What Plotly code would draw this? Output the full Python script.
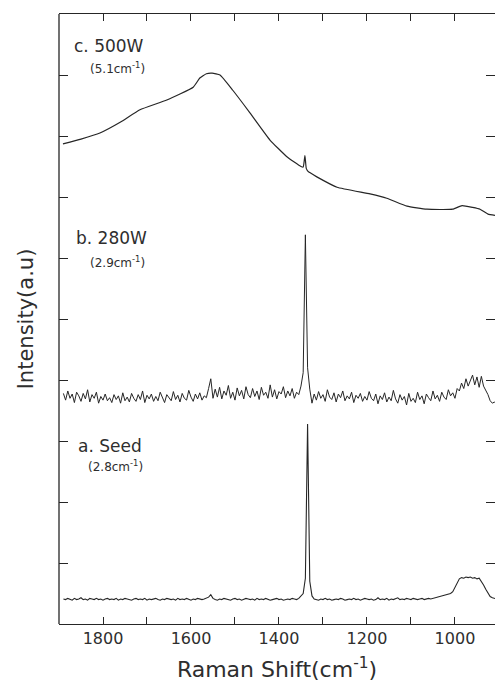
import plotly.graph_objects as go

# Wavenumber sampling grid for traces a and b (1890 -> 905 cm-1, step 5)
grid_x = list(range(1890, 904, -5))

# a. Seed
seed_y = [
    0.41,0.40,0.42,0.41,0.39,0.42,0.40,0.41,0.43,0.40,0.41,0.39,0.42,0.41,0.40,0.42,0.40,0.41,0.39,0.41,
    0.42,0.40,0.41,0.40,0.42,0.39,0.41,0.40,0.42,0.41,0.40,0.39,0.41,0.42,0.40,0.41,0.40,0.42,0.39,0.41,
    0.40,0.41,0.42,0.40,0.39,0.41,0.40,0.42,0.41,0.40,0.41,0.39,0.42,0.40,0.41,0.40,0.42,0.41,0.39,0.41,
    0.40,0.42,0.41,0.40,0.41,0.42,
    0.44,0.48,0.42,
    0.40,0.39,0.41,0.40,0.42,0.41,0.40,0.39,0.41,0.42,0.40,0.41,0.39,0.40,0.42,0.41,0.40,0.41,0.39,0.42,
    0.40,0.41,0.40,0.42,0.41,0.39,0.40,0.41,0.42,0.40,0.41,0.39,0.40,0.41,0.40,0.42,0.41,0.40,0.42,0.46,
    0.50,0.75,3.28,0.70,0.46,
    0.41,0.40,0.39,0.41,0.40,0.42,0.40,0.41,0.39,0.40,0.41,0.40,0.42,0.41,0.39,0.40,0.41,0.40,0.42,0.40,
    0.41,0.39,0.40,0.42,0.41,0.40,0.41,0.39,0.40,0.43,0.40,0.41,0.40,0.42,0.39,0.41,0.40,0.41,0.43,0.40,
    0.41,0.40,0.42,0.41,0.40,0.42,0.41,0.40,0.41,0.42,0.40,0.41,0.42,0.41,0.42,0.42,0.43,0.44,0.45,0.46,
    0.47,0.48,0.50,0.53,0.60,0.68,0.74,0.76,0.75,0.77,0.76,0.77,0.75,0.76,0.74,0.75,0.70,0.64,0.57,0.50,
    0.45,0.43,0.42,0.41,
]

# b. 280W
w280_y = [
    3.78,3.67,3.82,3.70,3.77,3.63,3.80,3.74,3.65,3.78,3.69,3.84,3.64,3.76,3.70,3.80,3.62,3.73,3.67,3.77,
    3.66,3.71,3.63,3.76,3.68,3.74,3.62,3.79,3.66,3.72,3.64,3.78,3.70,3.65,3.76,3.68,3.82,3.63,3.75,3.69,
    3.77,3.65,3.73,3.66,3.80,3.70,3.63,3.76,3.71,3.66,3.81,3.68,3.75,3.64,3.78,3.70,3.67,3.83,3.72,3.65,
    3.77,3.69,3.79,3.67,3.74,3.71,3.86,
    4.02,
    3.70,3.85,3.72,3.88,3.69,3.82,3.75,3.91,3.70,3.80,3.67,3.87,3.74,3.83,3.69,3.89,3.76,3.71,3.86,3.73,
    3.82,3.68,3.88,3.75,3.80,3.70,3.92,3.72,3.84,3.69,3.81,3.77,3.89,3.71,3.82,3.74,3.86,3.70,3.80,3.76,
    3.90,
    4.12,6.38,4.20,3.85,3.62,
    3.77,3.67,3.81,3.70,3.76,3.65,3.84,3.72,3.68,3.79,3.64,3.77,3.71,3.82,3.66,3.74,3.69,3.80,3.63,3.75,
    3.70,3.78,3.65,3.73,3.67,3.81,3.70,3.66,3.77,3.61,3.74,3.68,3.79,3.64,3.72,3.66,3.83,3.69,3.62,3.76,
    3.67,3.73,3.59,3.78,3.65,3.70,3.63,3.80,3.68,3.74,3.61,3.77,3.71,3.66,3.82,3.69,3.75,3.65,3.80,3.72,
    3.68,3.84,3.74,3.79,3.70,3.86,
    3.82,3.95,3.86,4.02,3.90,3.98,4.08,3.92,4.05,3.88,4.06,3.90,3.84,
    3.76,3.66,3.62,3.64,3.60,
]

# c. 500W
w500_x = [1891,1850,1807,1760,1716,1655,1595,1580,1565,1552,1534,1505,1466,1420,1382,
          1350,1345,1341,1338,1334,1330,1314,1268,1193,1155,1109,1064,1005,984,960,943,925,909]
w500_y = [7.87,7.95,8.05,8.23,8.43,8.59,8.80,8.95,9.02,9.03,9.00,8.75,8.38,7.93,7.66,
          7.50,7.49,7.68,7.47,7.42,7.40,7.33,7.16,7.05,6.98,6.85,6.80,6.80,6.86,6.83,6.80,6.72,6.70]

x_tickvals = [1800, 1700, 1600, 1500, 1400, 1300, 1200, 1100, 1000]
x_ticktext = ["1800", "", "1600", "", "1400", "", "1200", "", "1000"]
y_tickvals = [0, 1, 2, 3, 4, 5, 6, 7, 8, 9, 10]

labels = [
    ("c. 500W", 1870, 9.48, 17),
    ("(5.1cm<sup>-1</sup>)", 1834, 9.11, 12),
    ("b. 280W", 1866, 6.33, 17),
    ("(2.9cm<sup>-1</sup>)", 1834, 5.93, 12),
    ("a. Seed", 1861, 2.92, 17),
    ("(2.8cm<sup>-1</sup>)", 1839, 2.59, 12),
]

LINE = "#262626"
TXT = "#2e2e2e"
FONT = "DejaVu Sans"

fig = go.Figure()
fig.add_trace(go.Scatter(x=grid_x, y=seed_y, mode="lines", line=dict(color=LINE, width=1.1), hoverinfo="skip"))
fig.add_trace(go.Scatter(x=grid_x, y=w280_y, mode="lines", line=dict(color=LINE, width=1.0), hoverinfo="skip"))
fig.add_trace(go.Scatter(x=w500_x, y=w500_y, mode="lines",
                         line=dict(color=LINE, width=1.2, shape="spline", smoothing=0.4), hoverinfo="skip"))

for txt, x, y, s in labels:
    fig.add_annotation(x=x, y=y, text=txt, showarrow=False, xanchor="left", yanchor="middle",
                       font=dict(family=FONT, size=s, color=TXT))

# left frame line (y axis line drawn without mirroring so that only ticks appear on the right)
fig.add_shape(type="line", xref="paper", yref="paper", x0=0, x1=0, y0=0, y1=1,
              line=dict(color=LINE, width=1.3))

fig.update_layout(
    width=495, height=688,
    margin=dict(l=59, r=0, t=14, b=64),
    paper_bgcolor="white", plot_bgcolor="white",
    showlegend=False,
    font=dict(family=FONT, color=TXT),
    xaxis=dict(range=[1900, 909], tickvals=x_tickvals, ticktext=x_ticktext,
               ticks="inside", ticklen=7, tickwidth=1.3, tickcolor=LINE,
               showline=True, linecolor=LINE, linewidth=1.3, mirror="ticks",
               showgrid=False, zeroline=False,
               tickfont=dict(family=FONT, size=16, color=TXT),
               title=dict(text="Raman Shift(cm<sup>-1</sup>)", font=dict(family=FONT, size=22, color=TXT), standoff=14)),
    yaxis=dict(range=[0, 10], tickvals=y_tickvals, showticklabels=False,
               ticks="inside", ticklen=9, tickwidth=1.3, tickcolor=LINE,
               showline=False, mirror="ticks",
               showgrid=False, zeroline=False,
               title=dict(text="Intensity(a.u)", font=dict(family=FONT, size=21, color=TXT), standoff=18)),
)

fig.write_html("out.html")
